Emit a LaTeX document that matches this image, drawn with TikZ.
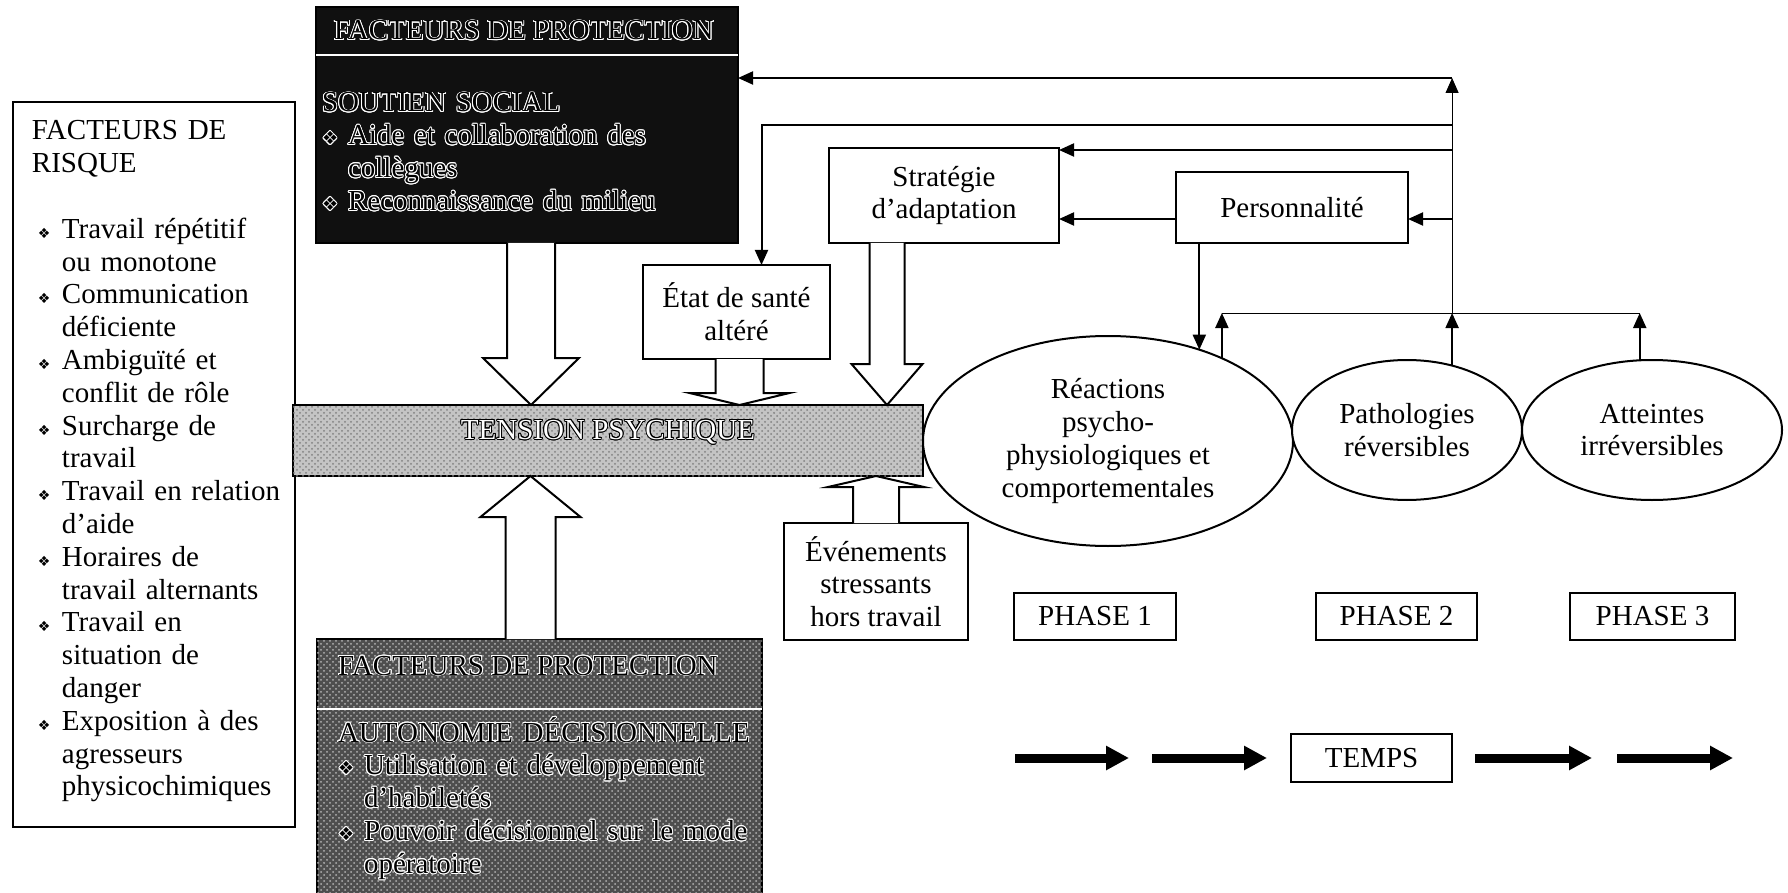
\documentclass[tikz,border=0pt]{standalone}
\usepackage{fontspec}
\setmainfont{Liberation Serif}
\newfontfamily\symfont{DejaVu Sans}
\usepackage{tikz}
\usetikzlibrary{shapes.geometric, arrows.meta, positioning, calc, patterns}
\usepackage{xcolor}
\usepackage{contour}
\contourlength{0.45pt}
\definecolor{protdark}{RGB}{16, 16, 16}
\definecolor{autogray}{RGB}{78, 78, 78}
\definecolor{tensgray}{RGB}{196, 196, 196}

\newcommand{\rbul}{\hspace*{3pt}\makebox[12pt][l]{\symfont\fontsize{7}{7}\selectfont ❖}}
\newcommand{\rind}{\hspace*{15pt}}
\newcommand{\pbul}{\makebox[13pt][l]{\symfont\fontsize{9}{9}\selectfont ❖}}
\newcommand{\ow}[1]{\contour{white}{#1}}
\newcommand{\blockarrow}[5]{%
  \draw[hollow] let \p1=(#1), \p2=(#2), \p3=($(\x1,\y2)!#5!(\x1,\y1)$) in
    (\x1-#3,\y1) -- (\x1-#3,\y3) -- (\x1-#4,\y3) -- (\x1,\y2)
    -- (\x1+#4,\y3) -- (\x1+#3,\y3) -- (\x1+#3,\y1);}

\begin{document}
\begin{tikzpicture}[x=0.5pt, y=-0.5pt,
  every node/.style={font=\fontsize{14.5}{16.4}\selectfont, inner sep=0pt, outer sep=0pt},
  box/.style={draw, line width=1pt, fill=white, align=center},
  oval/.style={ellipse, draw, line width=1pt, fill=white, align=center},
  darkbox/.style={draw, line width=1pt, fill=protdark},
  graybox/.style={draw, line width=1pt, fill=autogray, postaction={pattern=crosshatch dots, pattern color=black!30}},
  tensbox/.style={draw, line width=1pt, fill=tensgray, postaction={pattern=crosshatch dots, pattern color=black!50}},
  arr/.style={line width=1pt, -{Triangle[length=7.5pt,width=6.5pt]}},
  thinline/.style={line width=0.5pt},
  hollow/.style={draw, line width=1pt, fill=white, line join=miter},
  timearrow/.style={line width=4.5pt, -{Triangle[length=11.5pt,width=11.5pt]}}]
  \useasboundingbox (0,0) rectangle (1788,893);
  \clip (0,0) rectangle (1788,893);

  \node[box, anchor=north west, minimum width=141pt, minimum height=362.5pt] (risk) at (13,102) {};
  \node[anchor=base west, text width=132pt, align=left] (risklist) at (32,140) {FACTEURS DE\\RISQUE\\[16.4pt]
    \rbul Travail répétitif\\ \rind ou monotone\\
    \rbul Communication\\ \rind déficiente\\
    \rbul Ambiguïté et\\ \rind conflit de rôle\\
    \rbul Surcharge de\\ \rind travail\\
    \rbul Travail en relation\\ \rind d’aide\\
    \rbul Horaires de\\ \rind travail alternants\\
    \rbul Travail en\\ \rind situation de\\ \rind danger\\
    \rbul Exposition à des\\ \rind agresseurs\\ \rind physicochimiques};

  \node[darkbox, anchor=north west, minimum width=211pt, minimum height=118pt] (prot1) at (316,7) {};
  \draw[white, line width=1.2pt] (prot1.west |- 0,55) -- (prot1.east |- 0,55);
  \node[anchor=base west] (prot1head) at (334,40) {\ow{FACTEURS DE PROTECTION}};
  \node[anchor=base west, text width=205pt, align=left] (soutien) at (322,112) {\ow{SOUTIEN SOCIAL}\\
    \ow{\pbul Aide et collaboration des}\\ \hspace*{13pt}\ow{collègues}\\
    \ow{\pbul Reconnaissance du milieu}};

  \node[graybox, anchor=north west, minimum width=222.5pt, minimum height=130pt] (prot2) at (317,639) {};
  \draw[white, line width=1.2pt] (prot2.west |- 0,709) -- (prot2.east |- 0,709);
  \node[anchor=base west] (prot2head) at (338,675) {\ow{FACTEURS DE PROTECTION}};
  \node[anchor=base west, text width=215pt, align=left] (autonomie) at (338,742) {\ow{AUTONOMIE DÉCISIONNELLE}\\
    \ow{\pbul Utilisation et développement}\\ \hspace*{13pt}\ow{d’habiletés}\\
    \ow{\pbul Pouvoir décisionnel sur le mode}\\ \hspace*{13pt}\ow{opératoire}};

  \node[tensbox, anchor=north west, minimum width=315pt, minimum height=35.5pt] (tension) at (293,405) {};
  \node[text=white] (tenslabel) at ($(tension.center)+(0,-8)$) {\contour{black}{TENSION PSYCHIQUE}};

  \node[box, anchor=north west, minimum width=93.5pt, minimum height=47pt] (etat) at (643,265) {État de santé\\altéré};
  \node[box, anchor=north west, minimum width=115pt, minimum height=47.5pt] (strat) at (829,148) {Stratégie\\d’adaptation};
  \node[box, anchor=north west, minimum width=116pt, minimum height=35.5pt] (pers) at (1176,172) {Personnalité};
  \node[box, anchor=north west, minimum width=92pt, minimum height=58.5pt] (events) at (784,523) {Événements\\stressants\\hors travail};

  \node[oval, minimum width=185pt, minimum height=105pt] (reac) at (1108,441) {Réactions\\psycho-\\physiologiques et\\comportementales};
  \node[oval, minimum width=115pt, minimum height=70pt] (patho) at (1407,430) {Pathologies\\réversibles};
  \node[oval, minimum width=130pt, minimum height=70pt] (att) at (1652,430) {Atteintes\\irréversibles};

  \node[box, anchor=north west, minimum width=81pt, minimum height=23.5pt] (phase1) at (1014,593) {PHASE 1};
  \node[box, anchor=north west, minimum width=80.5pt, minimum height=23.5pt] (phase2) at (1316,593) {PHASE 2};
  \node[box, anchor=north west, minimum width=82.5pt, minimum height=23.5pt] (phase3) at (1570,593) {PHASE 3};
  \node[box, minimum width=80.5pt, minimum height=24pt] (temps) at (1371.5,758) {TEMPS};

  \blockarrow{$(prot1.south)+(4,0)$}{tension.north}{12pt}{24pt}{23.5pt}
  \blockarrow{$(prot2.north)+(-9,0)$}{tension.south}{12.5pt}{25pt}{20.5pt}
  \blockarrow{$(etat.south)+(3,0)$}{tension.north}{12pt}{25pt}{6pt}
  \blockarrow{$(strat.south)+(-57,0)$}{tension.north}{8.75pt}{17.75pt}{20.5pt}
  \blockarrow{events.north}{tension.south}{11.5pt}{24pt}{5.5pt}

  \coordinate (bus) at (0,313);
  \draw[thinline] (reac.36 |- bus) -- (att.100 |- bus);
  \foreach \n/\a in {reac/36, patho/55, att/100}
    \draw[arr] (\n.\a) -- (\n.\a |- bus);

  \coordinate (fb1) at (patho.55 |- 0,78);
  \coordinate (fb2) at (patho.55 |- 0,125);
  \coordinate (fb3) at (patho.55 |- 0,150);
  \coordinate (fb4) at (patho.55 |- 0,219);
  \draw[thinline, -{Triangle[length=7.5pt,width=6.5pt]}] (patho.55 |- bus) -- (fb1);
  \draw[arr] (fb1) -- (fb1 -| prot1.east);
  \draw[arr] (fb2) -| ($(etat.north)+(25,0)$);
  \draw[arr] (fb3) -- (fb3 -| strat.east);
  \draw[arr] (fb4) -- (fb4 -| pers.east);
  \draw[arr] (fb4 -| pers.west) -- (fb4 -| strat.east);
  \draw[arr] (reac.45 |- pers.south) -- (reac.45);

  \foreach \a/\b [count=\i] in {1015/1129, 1152/1267, 1475/1592, 1617/1733} {
    \coordinate (ts\i) at (\a,758);
    \coordinate (te\i) at (\b,758);
    \draw[timearrow] (ts\i) -- (te\i);
  }
\end{tikzpicture}
\end{document}
